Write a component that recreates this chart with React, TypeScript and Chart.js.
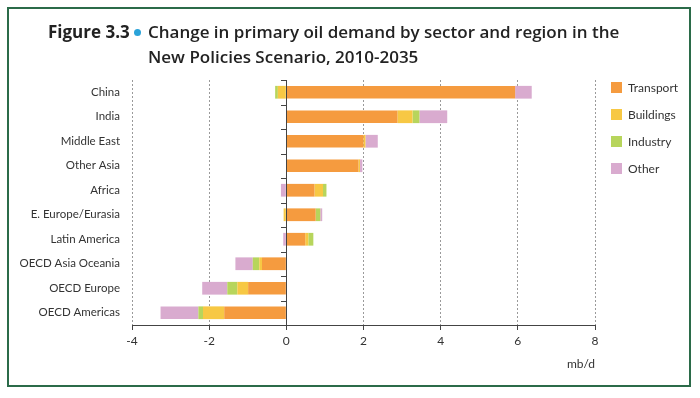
import React, { useEffect, useRef } from "react";
import { Chart, registerables } from "chart.js";

Chart.register(...registerables);

const categories = [
  "China",
  "India",
  "Middle East",
  "Other Asia",
  "Africa",
  "E. Europe/Eurasia",
  "Latin America",
  "OECD Asia Oceania",
  "OECD Europe",
  "OECD Americas",
];
const transport = [5.93, 2.88, 2.0, 1.87, 0.73, 0.76, 0.49, -0.63, -0.99, -1.61];
const buildings = [-0.22, 0.39, 0.05, 0.04, 0.22, -0.07, 0.08, -0.07, -0.28, -0.55];
const industry = [-0.07, 0.18, 0, 0, 0.09, 0.12, 0.13, -0.17, -0.26, -0.12];
const other = [0.43, 0.72, 0.32, 0.06, -0.14, 0.05, -0.08, -0.45, -0.65, -0.98];
const seriesNames = ["Transport", "Buildings", "Industry", "Other"];
const seriesColors = ["#F59B3F", "#F7C844", "#B7D55C", "#D9ABCF"];
const xTicks = [-4, -2, 0, 2, 4, 6, 8];

const FONT = "Lato, 'Open Sans', sans-serif";
const TITLE_FONT = "'Open Sans', Lato, sans-serif";

const zeroAxisPlugin = {
  id: "zeroAxis",
  afterDatasetsDraw(chart: any) {
    const { ctx, chartArea, scales } = chart;
    const x0 = scales.x.getPixelForValue(0);
    const n = categories.length;
    const step = (chartArea.bottom - chartArea.top) / n;
    ctx.save();
    ctx.strokeStyle = "#444";
    ctx.lineWidth = 1;
    ctx.beginPath();
    ctx.moveTo(Math.round(x0) + 0.5, chartArea.top);
    ctx.lineTo(Math.round(x0) + 0.5, chartArea.bottom);
    for (let i = 0; i < n; i++) {
      const y = Math.round(chartArea.top + i * step) + 0.5;
      ctx.moveTo(Math.round(x0) - 5, y);
      ctx.lineTo(Math.round(x0) + 0.5, y);
    }
    ctx.stroke();
    ctx.restore();
  },
};

export default function App() {
  const canvasRef = useRef<HTMLCanvasElement | null>(null);

  useEffect(() => {
    if (!canvasRef.current) return;
    const data = [transport, buildings, industry, other];
    const chart = new Chart(canvasRef.current, {
      type: "bar",
      data: {
        labels: categories,
        datasets: seriesNames.map((name, i) => ({
          label: name,
          data: data[i],
          backgroundColor: seriesColors[i],
          borderWidth: 0,
          categoryPercentage: 1,
          barPercentage: 0.52,
        })),
      },
      plugins: [zeroAxisPlugin],
      options: {
        indexAxis: "y",
        responsive: false,
        animation: false,
        events: [],
        layout: { padding: { left: 0, top: 80, right: 105, bottom: 27 } },
        plugins: { legend: { display: false }, tooltip: { enabled: false } },
        scales: {
          x: {
            type: "linear",
            stacked: true,
            min: -4,
            max: 8,
            afterBuildTicks: (scale: any) => {
              scale.ticks = xTicks.map((v) => ({ value: v }));
            },
            afterFit: (scale: any) => {
              scale.height = 46;
            },
            grid: {
              color: (c: any) => (c.tick && c.tick.value === 0 ? "rgba(0,0,0,0)" : "#9a9a9a"),
              lineWidth: 1,
              drawTicks: true,
              tickLength: 5,
              tickColor: "#444",
              tickBorderDash: [],
            },
            border: { display: true, color: "#444", width: 1, dash: [2, 2] },
            ticks: {
              padding: 4,
              color: "#333",
              font: { family: FONT, size: 12 },
              callback: (v: any) => String(v),
            },
            title: {
              display: true,
              text: "mb/d",
              align: "end",
              color: "#333",
              font: { family: FONT, size: 12 },
              padding: { top: 0, bottom: 0 },
            },
          },
          y: {
            stacked: true,
            afterFit: (scale: any) => {
              scale.width = 132;
            },
            grid: { display: false, drawTicks: false },
            border: { display: false },
            ticks: {
              padding: 12,
              color: "#333",
              font: { family: FONT, size: 11.5 },
            },
          },
        },
      },
    });
    return () => chart.destroy();
  }, []);

  return (
    <div
      style={{
        position: "fixed",
        left: 0,
        top: 0,
        width: 700,
        height: 398,
        background: "#fff",
        overflow: "hidden",
        fontFamily: FONT,
      }}
    >
      <div
        style={{
          position: "absolute",
          left: 7,
          top: 7,
          width: 680,
          height: 376,
          border: "2px solid #2B6B49",
        }}
      />
      <canvas
        ref={canvasRef}
        width={700}
        height={398}
        style={{ position: "absolute", left: 0, top: 0, width: 700, height: 398 }}
      />
      <div
        style={{
          position: "absolute",
          left: 48,
          top: 19,
          fontSize: 17,
          fontWeight: 700,
          fontFamily: TITLE_FONT,
          color: "#222",
          whiteSpace: "nowrap",
          lineHeight: "25px",
        }}
      >
        Figure 3.3
      </div>
      <div
        style={{
          position: "absolute",
          left: 134,
          top: 29,
          width: 7,
          height: 7,
          borderRadius: "50%",
          background: "#2BA3D9",
        }}
      />
      <div
        style={{
          position: "absolute",
          left: 148,
          top: 19,
          fontSize: 17,
          fontWeight: 600,
          fontFamily: TITLE_FONT,
          color: "#222",
          whiteSpace: "nowrap",
          lineHeight: "25px",
        }}
      >
        Change in primary oil demand by sector and region in the
        <br />
        New Policies Scenario, 2010-2035
      </div>
      {seriesNames.map((name, i) => (
        <div
          key={name}
          style={{
            position: "absolute",
            left: 611,
            top: 80 + i * 27.3,
            height: 14,
            display: "flex",
            alignItems: "center",
            whiteSpace: "nowrap",
          }}
        >
          <span
            style={{
              display: "inline-block",
              width: 11,
              height: 11,
              background: seriesColors[i],
              marginRight: 6,
            }}
          />
          <span style={{ fontSize: 12, color: "#333" }}>{name}</span>
        </div>
      ))}
    </div>
  );
}
